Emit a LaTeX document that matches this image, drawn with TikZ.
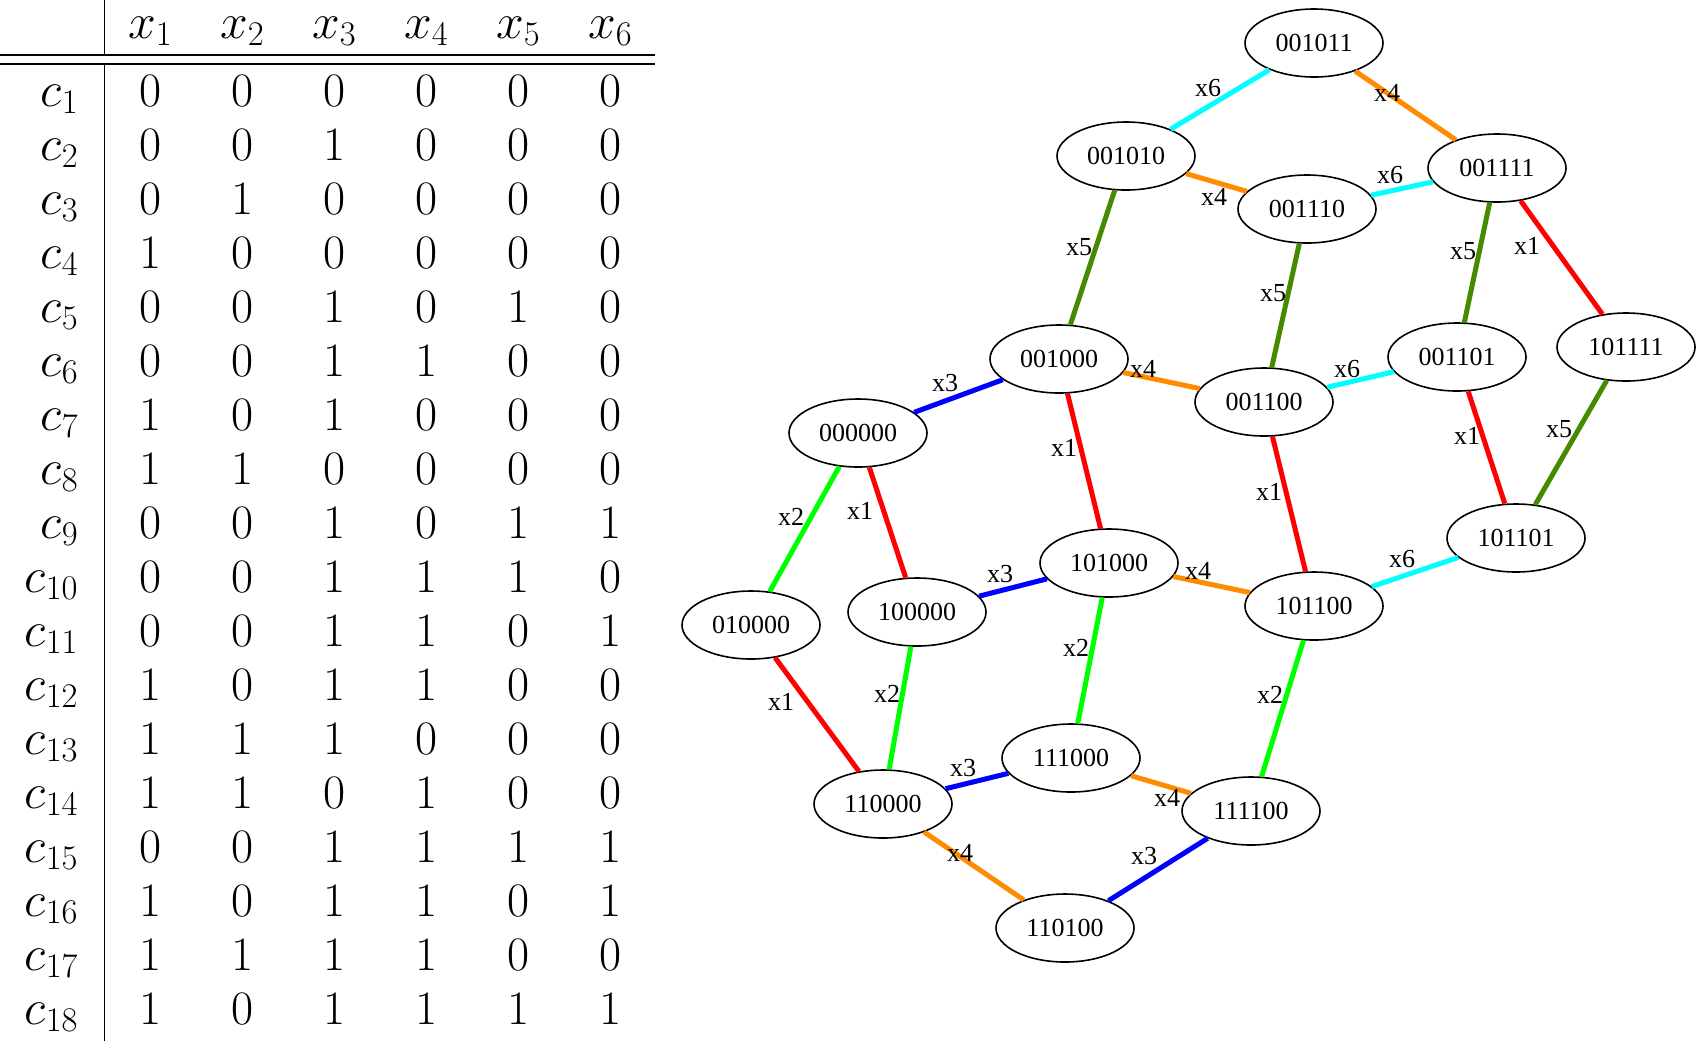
\documentclass[tikz,border=0pt]{standalone}
\usepackage{fontspec}
\usetikzlibrary{shapes.geometric}
\newfontfamily\gvfont{Liberation Serif}
\definecolor{gvcyan}{RGB}{0,255,255}
\definecolor{gvorange}{RGB}{255,140,0}
\definecolor{gvolive}{RGB}{69,139,0}
\definecolor{gvred}{RGB}{255,0,0}
\definecolor{gvblue}{RGB}{0,0,255}
\definecolor{gvgreen}{RGB}{0,255,0}
\tikzset{
  cell/.style={anchor=base,inner sep=0pt,font=\fontsize{24}{28}\selectfont},
  rowlab/.style={anchor=base east,inner sep=0pt,font=\fontsize{24}{28}\selectfont},
  rule/.style={line width=0.75pt},
  gv/.style={ellipse,draw,line width=0.8pt,minimum width=69pt,minimum height=34pt,inner sep=0pt,font=\gvfont\fontsize{13}{15}\selectfont},
  elab/.style={inner sep=0pt,font=\gvfont\fontsize{13}{15}\selectfont},
  edge/.style={line width=2.5pt},
  e1/.style={edge,gvred},
  e2/.style={edge,gvgreen},
  e3/.style={edge,gvblue},
  e4/.style={edge,gvorange},
  e5/.style={edge,gvolive},
  e6/.style={edge,gvcyan},
}
\begin{document}
\begin{tikzpicture}[x=0.5pt,y=-0.5pt]
\useasboundingbox (0,0) rectangle (1696,1041);
% ---------- table ----------
\coordinate (hl1a) at (0,55); \coordinate (hl1b) at (655,55);
\coordinate (hl2a) at (0,64); \coordinate (hl2b) at (655,64);
\coordinate (vl1a) at (104.5,0); \coordinate (vl1b) at (104.5,55);
\coordinate (vl2a) at (104.5,64); \coordinate (vl2b) at (104.5,1041);
\draw[rule] (hl1a) -- (hl1b);
\draw[rule] (hl2a) -- (hl2b);
\draw[rule] (vl1a) -- (vl1b);
\draw[rule] (vl2a) -- (vl2b);
\foreach \k in {1,...,6}{
  \node[cell] (h-\k) at ({150.5+(\k-1)*92},38) {$x_{\k}$};
}
\foreach \r/\va/\vb/\vc/\vd/\ve/\vf in {
 1/0/0/0/0/0/0, 2/0/0/1/0/0/0, 3/0/1/0/0/0/0, 4/1/0/0/0/0/0,
 5/0/0/1/0/1/0, 6/0/0/1/1/0/0, 7/1/0/1/0/0/0, 8/1/1/0/0/0/0,
 9/0/0/1/0/1/1, 10/0/0/1/1/1/0, 11/0/0/1/1/0/1, 12/1/0/1/1/0/0,
 13/1/1/1/0/0/0, 14/1/1/0/1/0/0, 15/0/0/1/1/1/1, 16/1/0/1/1/0/1,
 17/1/1/1/1/0/0, 18/1/0/1/1/1/1}{
  \node[rowlab] (l-\r) at (79,{106+(\r-1)*54}) {$c_{\r}$};
  \foreach \k/\v in {1/\va,2/\vb,3/\vc,4/\vd,5/\ve,6/\vf}{
    \node[cell] (t-\r-\k) at ({150.5+(\k-1)*92},{106+(\r-1)*54}) {\v};
  }
}
% ---------- graph nodes ----------
\node[gv] (n001011) at (1314,43) {001011};
\node[gv] (n001010) at (1126,156) {001010};
\node[gv] (n001111) at (1497,168) {001111};
\node[gv] (n001110) at (1307,209) {001110};
\node[gv] (n001000) at (1059,359) {001000};
\node[gv] (n001100) at (1264,402) {001100};
\node[gv] (n001101) at (1457,357) {001101};
\node[gv] (n101111) at (1626,347) {101111};
\node[gv] (n000000) at (858,433) {000000};
\node[gv] (n101101) at (1516,538) {101101};
\node[gv] (n101000) at (1109,563) {101000};
\node[gv] (n101100) at (1314,606) {101100};
\node[gv] (n010000) at (751,625) {010000};
\node[gv] (n100000) at (917,612) {100000};
\node[gv] (n111000) at (1071,758) {111000};
\node[gv] (n110000) at (883,804) {110000};
\node[gv] (n111100) at (1251,811) {111100};
\node[gv] (n110100) at (1065,928) {110100};
% ---------- edges ----------
\draw[e6] (n001011) -- (n001010);
\draw[e4] (n001011) -- (n001111);
\draw[e4] (n001010) -- (n001110);
\draw[e6] (n001110) -- (n001111);
\draw[e5] (n001010) -- (n001000);
\draw[e5] (n001110) -- (n001100);
\draw[e5] (n001111) -- (n001101);
\draw[e1] (n001111) -- (n101111);
\draw[e3] (n001000) -- (n000000);
\draw[e4] (n001000) -- (n001100);
\draw[e6] (n001100) -- (n001101);
\draw[e1] (n001000) -- (n101000);
\draw[e1] (n001100) -- (n101100);
\draw[e1] (n001101) -- (n101101);
\draw[e5] (n101111) -- (n101101);
\draw[e2] (n000000) -- (n010000);
\draw[e1] (n000000) -- (n100000);
\draw[e3] (n100000) -- (n101000);
\draw[e4] (n101000) -- (n101100);
\draw[e6] (n101100) -- (n101101);
\draw[e2] (n101000) -- (n111000);
\draw[e2] (n101100) -- (n111100);
\draw[e1] (n010000) -- (n110000);
\draw[e2] (n100000) -- (n110000);
\draw[e3] (n110000) -- (n111000);
\draw[e4] (n111000) -- (n111100);
\draw[e4] (n110000) -- (n110100);
\draw[e3] (n111100) -- (n110100);
% ---------- edge labels ----------
\node[elab] (a1) at (1208,88) {x6};
\node[elab] (a2) at (1387,93) {x4};
\node[elab] (a3) at (1214,197) {x4};
\node[elab] (a4) at (1390,175) {x6};
\node[elab] (a5) at (1079,247) {x5};
\node[elab] (a6) at (1273,293) {x5};
\node[elab] (a7) at (1463,251) {x5};
\node[elab] (a8) at (1527,246) {x1};
\node[elab] (a9) at (945,383) {x3};
\node[elab] (a10) at (1143,369) {x4};
\node[elab] (a11) at (1347,369) {x6};
\node[elab] (a12) at (1064,448) {x1};
\node[elab] (a13) at (1269,492) {x1};
\node[elab] (a14) at (1467,436) {x1};
\node[elab] (a15) at (1559,429) {x5};
\node[elab] (a16) at (791,517) {x2};
\node[elab] (a17) at (860,511) {x1};
\node[elab] (a18) at (1000,574) {x3};
\node[elab] (a19) at (1198,571) {x4};
\node[elab] (a20) at (1402,559) {x6};
\node[elab] (a21) at (1076,648) {x2};
\node[elab] (a22) at (1270,695) {x2};
\node[elab] (a23) at (781,702) {x1};
\node[elab] (a24) at (887,694) {x2};
\node[elab] (a25) at (963,768) {x3};
\node[elab] (a26) at (1167,798) {x4};
\node[elab] (a27) at (960,853) {x4};
\node[elab] (a28) at (1144,856) {x3};
\end{tikzpicture}
\end{document}
